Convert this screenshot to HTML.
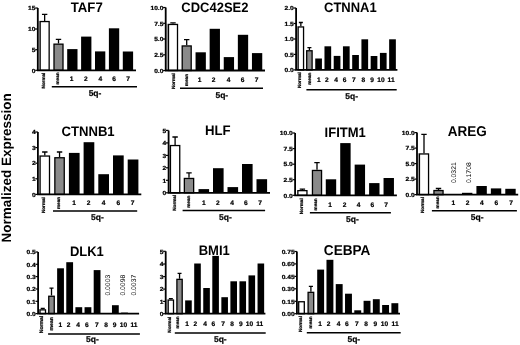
<!DOCTYPE html>
<html><head><meta charset="utf-8"><style>
html,body{margin:0;padding:0;background:#fff;width:520px;height:345px;overflow:hidden}
svg{display:block;will-change:transform}
text{font-family:"Liberation Sans", sans-serif;font-weight:bold;fill:#000;text-rendering:geometricPrecision}
.s{stroke:#000;stroke-width:0.22px}
</style></head><body>
<svg width="520" height="345" viewBox="0 0 520 345">
<rect width="520" height="345" fill="#fff"/>
<text transform="translate(11.3 167.8) rotate(-90)" font-size="13.5" text-anchor="middle">Normalized Expression</text>
<rect x="38.6" y="20.9" width="0.9" height="49.4" fill="#a0a0a0"/>
<rect x="40.15" y="21.55" width="9" height="48.75" fill="#fff" stroke="#000" stroke-width="1.3"/>
<path d="M44.65 20.9V14.3M41.95 14.3H47.35" stroke="#000" stroke-width="1.3" fill="none"/>
<rect x="54" y="44.15" width="9" height="26.15" fill="#8a8a8a" stroke="#000" stroke-width="1.3"/>
<path d="M58.5 43.5V39.4M55.8 39.4H61.2" stroke="#000" stroke-width="1.3" fill="none"/>
<rect x="67.2" y="49.1" width="10.3" height="21.2" fill="#000"/>
<rect x="81.1" y="36.6" width="10.3" height="33.7" fill="#000"/>
<rect x="95" y="51.4" width="10.3" height="18.9" fill="#000"/>
<rect x="108.9" y="28.3" width="10.3" height="42" fill="#000"/>
<rect x="122.8" y="51.5" width="10.3" height="18.8" fill="#000"/>
<path d="M37.8 8V70.3H136" stroke="#000" stroke-width="1.8" fill="none"/>
<path d="M35.2 8H37.8" stroke="#000" stroke-width="1.2"/>
<text transform="translate(35.5 10.2) scale(1.13 1)" font-size="5.9" text-anchor="end" class="s">15</text>
<path d="M35.2 29H37.8" stroke="#000" stroke-width="1.2"/>
<text transform="translate(35.5 31.2) scale(1.13 1)" font-size="5.9" text-anchor="end" class="s">10</text>
<path d="M35.2 49.7H37.8" stroke="#000" stroke-width="1.2"/>
<text transform="translate(35.5 51.9) scale(1.13 1)" font-size="5.9" text-anchor="end" class="s">5</text>
<path d="M35.2 70.3H37.8" stroke="#000" stroke-width="1.2"/>
<text transform="translate(35.5 72.5) scale(1.13 1)" font-size="5.9" text-anchor="end" class="s">0</text>
<text transform="translate(45.4 72.6) rotate(-90)" font-size="4.65" text-anchor="end" class="s">Normal</text>
<text transform="translate(58.6 72.4) rotate(-90)" font-size="4.65" text-anchor="end" class="s">mean</text>
<text x="71.6" y="80.8" font-size="6.6" text-anchor="middle" class="s">1</text>
<text x="85.9" y="80.8" font-size="6.6" text-anchor="middle" class="s">2</text>
<text x="100.4" y="80.8" font-size="6.6" text-anchor="middle" class="s">4</text>
<text x="114.2" y="80.8" font-size="6.6" text-anchor="middle" class="s">6</text>
<text x="128.1" y="80.8" font-size="6.6" text-anchor="middle" class="s">7</text>
<path d="M51.8 86.65H137" stroke="#000" stroke-width="1.5"/>
<text x="95" y="96" font-size="8.5" text-anchor="middle" class="s">5q-</text>
<text transform="translate(86.75 12) scale(1 1.05)" font-size="13.2" text-anchor="middle">TAF7</text>
<rect x="166.5" y="23.8" width="1.35" height="46.7" fill="#a0a0a0"/>
<rect x="168.5" y="24.45" width="9" height="46.05" fill="#fff" stroke="#000" stroke-width="1.3"/>
<path d="M173 23.8V22.8M170.3 22.8H175.7" stroke="#000" stroke-width="1.3" fill="none"/>
<rect x="182.2" y="45.95" width="9" height="24.55" fill="#8a8a8a" stroke="#000" stroke-width="1.3"/>
<path d="M186.7 45.3V39.6M184 39.6H189.4" stroke="#000" stroke-width="1.3" fill="none"/>
<rect x="195.55" y="52.3" width="10.3" height="18.2" fill="#000"/>
<rect x="209.65" y="28.8" width="10.3" height="41.7" fill="#000"/>
<rect x="223.75" y="57.1" width="10.3" height="13.4" fill="#000"/>
<rect x="237.85" y="34.8" width="10.3" height="35.7" fill="#000"/>
<rect x="251.95" y="53.1" width="10.3" height="17.4" fill="#000"/>
<path d="M165.7 7.5V70.5H265" stroke="#000" stroke-width="1.8" fill="none"/>
<path d="M163.1 7.5H165.7" stroke="#000" stroke-width="1.2"/>
<text transform="translate(163.4 9.7) scale(1.13 1)" font-size="5.9" text-anchor="end" class="s">10.0</text>
<path d="M163.1 23.3H165.7" stroke="#000" stroke-width="1.2"/>
<text transform="translate(163.4 25.5) scale(1.13 1)" font-size="5.9" text-anchor="end" class="s">7.5</text>
<path d="M163.1 39H165.7" stroke="#000" stroke-width="1.2"/>
<text transform="translate(163.4 41.2) scale(1.13 1)" font-size="5.9" text-anchor="end" class="s">5.0</text>
<path d="M163.1 54.8H165.7" stroke="#000" stroke-width="1.2"/>
<text transform="translate(163.4 57) scale(1.13 1)" font-size="5.9" text-anchor="end" class="s">2.5</text>
<path d="M163.1 70.5H165.7" stroke="#000" stroke-width="1.2"/>
<text transform="translate(163.4 72.7) scale(1.13 1)" font-size="5.9" text-anchor="end" class="s">0.0</text>
<text transform="translate(174.6 73.1) rotate(-90)" font-size="4.65" text-anchor="end" class="s">Normal</text>
<text transform="translate(187.7 74) rotate(-90)" font-size="4.65" text-anchor="end" class="s">mean</text>
<text x="199.6" y="82.4" font-size="6.6" text-anchor="middle" class="s">1</text>
<text x="213.6" y="82.4" font-size="6.6" text-anchor="middle" class="s">2</text>
<text x="228.5" y="82.4" font-size="6.6" text-anchor="middle" class="s">4</text>
<text x="242.5" y="82.4" font-size="6.6" text-anchor="middle" class="s">6</text>
<text x="256.5" y="82.4" font-size="6.6" text-anchor="middle" class="s">7</text>
<path d="M180 88.3H263" stroke="#000" stroke-width="1.5"/>
<text x="221.8" y="97.5" font-size="8.5" text-anchor="middle" class="s">5q-</text>
<text transform="translate(214.85 12.44) scale(1 1.05)" font-size="13" text-anchor="middle">CDC42SE2</text>
<rect x="296.9" y="26.3" width="0.6" height="43.6" fill="#a0a0a0"/>
<rect x="298.15" y="26.95" width="5.4" height="42.95" fill="#fff" stroke="#000" stroke-width="1.3"/>
<path d="M300.85 26.3V22.5M298.84 22.5H302.86" stroke="#000" stroke-width="1.3" fill="none"/>
<rect x="306.7" y="50.75" width="5.4" height="19.15" fill="#8a8a8a" stroke="#000" stroke-width="1.3"/>
<path d="M309.4 50.1V47.7M307.39 47.7H311.41" stroke="#000" stroke-width="1.3" fill="none"/>
<rect x="315.23" y="58.5" width="6.7" height="11.4" fill="#000"/>
<rect x="324.47" y="46.3" width="6.7" height="23.6" fill="#000"/>
<rect x="333.71" y="55.9" width="6.7" height="14" fill="#000"/>
<rect x="342.95" y="46.3" width="6.7" height="23.6" fill="#000"/>
<rect x="352.19" y="55" width="6.7" height="14.9" fill="#000"/>
<rect x="361.43" y="39.3" width="6.7" height="30.6" fill="#000"/>
<rect x="370.67" y="56" width="6.7" height="13.9" fill="#000"/>
<rect x="379.91" y="52.9" width="6.7" height="17" fill="#000"/>
<rect x="389.15" y="39.3" width="6.7" height="30.6" fill="#000"/>
<path d="M296.1 8V69.9H397.4" stroke="#000" stroke-width="1.8" fill="none"/>
<path d="M293.5 8H296.1" stroke="#000" stroke-width="1.2"/>
<text transform="translate(293.8 10.2) scale(1.13 1)" font-size="5.9" text-anchor="end" class="s">2.0</text>
<path d="M293.5 23.5H296.1" stroke="#000" stroke-width="1.2"/>
<text transform="translate(293.8 25.7) scale(1.13 1)" font-size="5.9" text-anchor="end" class="s">1.5</text>
<path d="M293.5 39H296.1" stroke="#000" stroke-width="1.2"/>
<text transform="translate(293.8 41.2) scale(1.13 1)" font-size="5.9" text-anchor="end" class="s">1.0</text>
<path d="M293.5 54.4H296.1" stroke="#000" stroke-width="1.2"/>
<text transform="translate(293.8 56.6) scale(1.13 1)" font-size="5.9" text-anchor="end" class="s">0.5</text>
<path d="M293.5 69.9H296.1" stroke="#000" stroke-width="1.2"/>
<text transform="translate(293.8 72.1) scale(1.13 1)" font-size="5.9" text-anchor="end" class="s">0.0</text>
<text transform="translate(301.1 72.1) rotate(-90)" font-size="4.65" text-anchor="end" class="s">Normal</text>
<text transform="translate(310.7 72.7) rotate(-90)" font-size="4.65" text-anchor="end" class="s">mean</text>
<text x="318.9" y="82" font-size="6.6" text-anchor="middle" class="s">1</text>
<text x="326.9" y="82" font-size="6.6" text-anchor="middle" class="s">2</text>
<text x="336.1" y="82" font-size="6.6" text-anchor="middle" class="s">4</text>
<text x="344.6" y="82" font-size="6.6" text-anchor="middle" class="s">6</text>
<text x="353.9" y="82" font-size="6.6" text-anchor="middle" class="s">7</text>
<text x="363.3" y="82" font-size="6.6" text-anchor="middle" class="s">8</text>
<text x="372.1" y="82" font-size="6.6" text-anchor="middle" class="s">9</text>
<text x="381" y="82" font-size="6.6" text-anchor="middle" class="s">10</text>
<text x="391.1" y="82" font-size="6.6" text-anchor="middle" class="s">11</text>
<path d="M306.4 89.75H396.7" stroke="#000" stroke-width="1.5"/>
<text x="351.6" y="98.8" font-size="8.5" text-anchor="middle" class="s">5q-</text>
<text transform="translate(350.35 11.59) scale(1 1.05)" font-size="13" text-anchor="middle">CTNNA1</text>
<rect x="38.7" y="155.4" width="0.75" height="39" fill="#a0a0a0"/>
<rect x="40.1" y="156.05" width="9.4" height="38.35" fill="#fff" stroke="#000" stroke-width="1.3"/>
<path d="M44.8 155.4V152M42.1 152H47.5" stroke="#000" stroke-width="1.3" fill="none"/>
<rect x="54.85" y="157.75" width="9.4" height="36.65" fill="#8a8a8a" stroke="#000" stroke-width="1.3"/>
<path d="M59.55 157.1V152M56.85 152H62.25" stroke="#000" stroke-width="1.3" fill="none"/>
<rect x="68.9" y="152.9" width="10.7" height="41.5" fill="#000"/>
<rect x="83.6" y="142.2" width="10.7" height="52.2" fill="#000"/>
<rect x="98.3" y="174.2" width="10.7" height="20.2" fill="#000"/>
<rect x="113" y="155.4" width="10.7" height="39" fill="#000"/>
<rect x="127.7" y="159.5" width="10.7" height="34.9" fill="#000"/>
<path d="M37.9 132V194.4H141.3" stroke="#000" stroke-width="1.8" fill="none"/>
<path d="M35.3 132H37.9" stroke="#000" stroke-width="1.2"/>
<text transform="translate(35.6 134.2) scale(1.13 1)" font-size="5.9" text-anchor="end" class="s">4</text>
<path d="M35.3 147.6H37.9" stroke="#000" stroke-width="1.2"/>
<text transform="translate(35.6 149.8) scale(1.13 1)" font-size="5.9" text-anchor="end" class="s">3</text>
<path d="M35.3 163.2H37.9" stroke="#000" stroke-width="1.2"/>
<text transform="translate(35.6 165.4) scale(1.13 1)" font-size="5.9" text-anchor="end" class="s">2</text>
<path d="M35.3 178.8H37.9" stroke="#000" stroke-width="1.2"/>
<text transform="translate(35.6 181) scale(1.13 1)" font-size="5.9" text-anchor="end" class="s">1</text>
<path d="M35.3 194.4H37.9" stroke="#000" stroke-width="1.2"/>
<text transform="translate(35.6 196.6) scale(1.13 1)" font-size="5.9" text-anchor="end" class="s">0</text>
<text transform="translate(45.4 197.1) rotate(-90)" font-size="4.65" text-anchor="end" class="s">Normal</text>
<text transform="translate(60.4 196.9) rotate(-90)" font-size="4.65" text-anchor="end" class="s">mean</text>
<text x="74.2" y="205.1" font-size="6.6" text-anchor="middle" class="s">1</text>
<text x="88.7" y="205.1" font-size="6.6" text-anchor="middle" class="s">2</text>
<text x="103.6" y="205.1" font-size="6.6" text-anchor="middle" class="s">4</text>
<text x="118.3" y="205.1" font-size="6.6" text-anchor="middle" class="s">6</text>
<text x="132.7" y="205.1" font-size="6.6" text-anchor="middle" class="s">7</text>
<path d="M53 211.05H137.2" stroke="#000" stroke-width="1.5"/>
<text x="97.4" y="220.3" font-size="8.5" text-anchor="middle" class="s">5q-</text>
<text transform="translate(88.1 136.14) scale(1 1.05)" font-size="13.1" text-anchor="middle">CTNNB1</text>
<rect x="169.4" y="144.9" width="0.4" height="47.9" fill="#a0a0a0"/>
<rect x="170.45" y="145.55" width="9.3" height="47.25" fill="#fff" stroke="#000" stroke-width="1.3"/>
<path d="M175.1 144.9V137M172.4 137H177.8" stroke="#000" stroke-width="1.3" fill="none"/>
<rect x="184.35" y="178.45" width="9.3" height="14.35" fill="#8a8a8a" stroke="#000" stroke-width="1.3"/>
<path d="M189 177.8V172.8M186.3 172.8H191.7" stroke="#000" stroke-width="1.3" fill="none"/>
<rect x="198.5" y="189.1" width="10.6" height="3.7" fill="#000"/>
<rect x="213" y="168.2" width="10.6" height="24.6" fill="#000"/>
<rect x="227.5" y="187.1" width="10.6" height="5.7" fill="#000"/>
<rect x="242" y="164" width="10.6" height="28.8" fill="#000"/>
<rect x="256.5" y="179.2" width="10.6" height="13.6" fill="#000"/>
<path d="M168.6 130.4V192.8H270" stroke="#000" stroke-width="1.8" fill="none"/>
<path d="M166 130.4H168.6" stroke="#000" stroke-width="1.2"/>
<text transform="translate(166.3 132.6) scale(1.13 1)" font-size="5.9" text-anchor="end" class="s">5</text>
<path d="M166 142.9H168.6" stroke="#000" stroke-width="1.2"/>
<text transform="translate(166.3 145.1) scale(1.13 1)" font-size="5.9" text-anchor="end" class="s">4</text>
<path d="M166 155.4H168.6" stroke="#000" stroke-width="1.2"/>
<text transform="translate(166.3 157.6) scale(1.13 1)" font-size="5.9" text-anchor="end" class="s">3</text>
<path d="M166 167.8H168.6" stroke="#000" stroke-width="1.2"/>
<text transform="translate(166.3 170) scale(1.13 1)" font-size="5.9" text-anchor="end" class="s">2</text>
<path d="M166 180.3H168.6" stroke="#000" stroke-width="1.2"/>
<text transform="translate(166.3 182.5) scale(1.13 1)" font-size="5.9" text-anchor="end" class="s">1</text>
<path d="M166 192.8H168.6" stroke="#000" stroke-width="1.2"/>
<text transform="translate(166.3 195) scale(1.13 1)" font-size="5.9" text-anchor="end" class="s">0</text>
<text transform="translate(175.6 194.8) rotate(-90)" font-size="4.65" text-anchor="end" class="s">Normal</text>
<text transform="translate(189.5 195.7) rotate(-90)" font-size="4.65" text-anchor="end" class="s">mean</text>
<text x="203.8" y="204.6" font-size="6.6" text-anchor="middle" class="s">1</text>
<text x="217.8" y="204.6" font-size="6.6" text-anchor="middle" class="s">2</text>
<text x="232" y="204.6" font-size="6.6" text-anchor="middle" class="s">4</text>
<text x="245.9" y="204.6" font-size="6.6" text-anchor="middle" class="s">6</text>
<text x="260.2" y="204.6" font-size="6.6" text-anchor="middle" class="s">7</text>
<path d="M182.6 210.5H265.1" stroke="#000" stroke-width="1.5"/>
<text x="225.4" y="219.5" font-size="8.5" text-anchor="middle" class="s">5q-</text>
<text transform="translate(217.8 134.54) scale(1 1.05)" font-size="13.2" text-anchor="middle">HLF</text>
<rect x="297.85" y="190.65" width="9.1" height="4.65" fill="#fff" stroke="#000" stroke-width="1.3"/>
<path d="M302.4 190V189.2M299.7 189.2H305.1" stroke="#000" stroke-width="1.3" fill="none"/>
<rect x="312.45" y="170.45" width="9.1" height="24.85" fill="#8a8a8a" stroke="#000" stroke-width="1.3"/>
<path d="M317 169.8V162.6M314.3 162.6H319.7" stroke="#000" stroke-width="1.3" fill="none"/>
<rect x="325.78" y="179.3" width="10.4" height="16" fill="#000"/>
<rect x="340.22" y="143.1" width="10.4" height="52.2" fill="#000"/>
<rect x="354.66" y="164.6" width="10.4" height="30.7" fill="#000"/>
<rect x="369.1" y="183.1" width="10.4" height="12.2" fill="#000"/>
<rect x="383.54" y="178" width="10.4" height="17.3" fill="#000"/>
<path d="M295.1 133V195.3H396.9" stroke="#000" stroke-width="1.8" fill="none"/>
<path d="M292.5 133H295.1" stroke="#000" stroke-width="1.2"/>
<text transform="translate(292.8 135.2) scale(1.13 1)" font-size="5.9" text-anchor="end" class="s">10.0</text>
<path d="M292.5 148.6H295.1" stroke="#000" stroke-width="1.2"/>
<text transform="translate(292.8 150.8) scale(1.13 1)" font-size="5.9" text-anchor="end" class="s">7.5</text>
<path d="M292.5 164.2H295.1" stroke="#000" stroke-width="1.2"/>
<text transform="translate(292.8 166.4) scale(1.13 1)" font-size="5.9" text-anchor="end" class="s">5.0</text>
<path d="M292.5 179.7H295.1" stroke="#000" stroke-width="1.2"/>
<text transform="translate(292.8 181.9) scale(1.13 1)" font-size="5.9" text-anchor="end" class="s">2.5</text>
<path d="M292.5 195.3H295.1" stroke="#000" stroke-width="1.2"/>
<text transform="translate(292.8 197.5) scale(1.13 1)" font-size="5.9" text-anchor="end" class="s">0.0</text>
<text transform="translate(302.9 198.3) rotate(-90)" font-size="4.65" text-anchor="end" class="s">Normal</text>
<text transform="translate(317 198.3) rotate(-90)" font-size="4.65" text-anchor="end" class="s">mean</text>
<text x="330" y="206.9" font-size="6.6" text-anchor="middle" class="s">1</text>
<text x="344.6" y="206.9" font-size="6.6" text-anchor="middle" class="s">2</text>
<text x="358.5" y="206.9" font-size="6.6" text-anchor="middle" class="s">4</text>
<text x="372.3" y="206.9" font-size="6.6" text-anchor="middle" class="s">6</text>
<text x="386.2" y="206.9" font-size="6.6" text-anchor="middle" class="s">7</text>
<path d="M309.9 212.8H390.9" stroke="#000" stroke-width="1.5"/>
<text x="352.4" y="221.5" font-size="8.5" text-anchor="middle" class="s">5q-</text>
<text transform="translate(345.2 137.14) scale(1 1.05)" font-size="13" text-anchor="middle">IFITM1</text>
<rect x="417.8" y="153.3" width="1" height="41.3" fill="#a0a0a0"/>
<rect x="419.45" y="153.95" width="9.1" height="40.65" fill="#fff" stroke="#000" stroke-width="1.3"/>
<path d="M424 153.3V134.3M421.3 134.3H426.7" stroke="#000" stroke-width="1.3" fill="none"/>
<rect x="433.95" y="190.55" width="9.1" height="4.05" fill="#8a8a8a" stroke="#000" stroke-width="1.3"/>
<path d="M438.5 189.9V188.5M435.8 188.5H441.2" stroke="#000" stroke-width="1.3" fill="none"/>
<rect x="461.99" y="192.8" width="10.4" height="1.8" fill="#000"/>
<rect x="476.42" y="186" width="10.4" height="8.6" fill="#000"/>
<rect x="490.85" y="188.4" width="10.4" height="6.2" fill="#000"/>
<rect x="505.28" y="188.8" width="10.4" height="5.8" fill="#000"/>
<path d="M417 132.6V194.6H518.2" stroke="#000" stroke-width="1.8" fill="none"/>
<path d="M414.4 132.6H417" stroke="#000" stroke-width="1.2"/>
<text transform="translate(414.7 134.8) scale(1.13 1)" font-size="5.9" text-anchor="end" class="s">10.0</text>
<path d="M414.4 148.1H417" stroke="#000" stroke-width="1.2"/>
<text transform="translate(414.7 150.3) scale(1.13 1)" font-size="5.9" text-anchor="end" class="s">7.5</text>
<path d="M414.4 163.6H417" stroke="#000" stroke-width="1.2"/>
<text transform="translate(414.7 165.8) scale(1.13 1)" font-size="5.9" text-anchor="end" class="s">5.0</text>
<path d="M414.4 179.1H417" stroke="#000" stroke-width="1.2"/>
<text transform="translate(414.7 181.3) scale(1.13 1)" font-size="5.9" text-anchor="end" class="s">2.5</text>
<path d="M414.4 194.6H417" stroke="#000" stroke-width="1.2"/>
<text transform="translate(414.7 196.8) scale(1.13 1)" font-size="5.9" text-anchor="end" class="s">0.0</text>
<text transform="translate(424.3 197) rotate(-90)" font-size="4.65" text-anchor="end" class="s">Normal</text>
<text transform="translate(439.3 196.3) rotate(-90)" font-size="4.65" text-anchor="end" class="s">mean</text>
<text x="453.3" y="205.1" font-size="6.6" text-anchor="middle" class="s">1</text>
<text x="467.5" y="205.1" font-size="6.6" text-anchor="middle" class="s">2</text>
<text x="481.9" y="205.1" font-size="6.6" text-anchor="middle" class="s">4</text>
<text x="496.4" y="205.1" font-size="6.6" text-anchor="middle" class="s">6</text>
<text x="511.1" y="205.1" font-size="6.6" text-anchor="middle" class="s">7</text>
<text transform="translate(456 162.3) rotate(-90)" font-size="6.8" style="font-weight:normal" text-anchor="end">0.0321</text>
<text transform="translate(470.8 162.3) rotate(-90)" font-size="6.8" style="font-weight:normal" text-anchor="end">0.1708</text>
<path d="M431.9 210.7H516.9" stroke="#000" stroke-width="1.5"/>
<text x="477.1" y="220" font-size="8.5" text-anchor="middle" class="s">5q-</text>
<text transform="translate(467.2 136.14) scale(1 1.05)" font-size="13.5" text-anchor="middle">AREG</text>
<rect x="38.9" y="309.2" width="0.45" height="4.4" fill="#a0a0a0"/>
<rect x="40" y="309.85" width="5.5" height="3.75" fill="#fff" stroke="#000" stroke-width="1.3"/>
<path d="M42.75 309.2V308.4M40.71 308.4H44.79" stroke="#000" stroke-width="1.3" fill="none"/>
<rect x="48.75" y="296.25" width="5.5" height="17.35" fill="#8a8a8a" stroke="#000" stroke-width="1.3"/>
<path d="M51.5 295.6V288.1M49.46 288.1H53.54" stroke="#000" stroke-width="1.3" fill="none"/>
<rect x="57.13" y="268.3" width="6.8" height="45.3" fill="#000"/>
<rect x="66.27" y="262.2" width="6.8" height="51.4" fill="#000"/>
<rect x="75.41" y="307.2" width="6.8" height="6.4" fill="#000"/>
<rect x="84.55" y="307.2" width="6.8" height="6.4" fill="#000"/>
<rect x="93.69" y="270.1" width="6.8" height="43.5" fill="#000"/>
<rect x="111.97" y="305.2" width="6.8" height="8.4" fill="#000"/>
<rect x="121.11" y="312.6" width="6.8" height="1" fill="#000"/>
<path d="M38.1 252V313.6H139.1" stroke="#000" stroke-width="1.8" fill="none"/>
<path d="M35.5 252H38.1" stroke="#000" stroke-width="1.2"/>
<text transform="translate(35.8 254.2) scale(1.13 1)" font-size="5.9" text-anchor="end" class="s">0.5</text>
<path d="M35.5 264.3H38.1" stroke="#000" stroke-width="1.2"/>
<text transform="translate(35.8 266.5) scale(1.13 1)" font-size="5.9" text-anchor="end" class="s">0.4</text>
<path d="M35.5 276.6H38.1" stroke="#000" stroke-width="1.2"/>
<text transform="translate(35.8 278.8) scale(1.13 1)" font-size="5.9" text-anchor="end" class="s">0.3</text>
<path d="M35.5 289H38.1" stroke="#000" stroke-width="1.2"/>
<text transform="translate(35.8 291.2) scale(1.13 1)" font-size="5.9" text-anchor="end" class="s">0.2</text>
<path d="M35.5 301.3H38.1" stroke="#000" stroke-width="1.2"/>
<text transform="translate(35.8 303.5) scale(1.13 1)" font-size="5.9" text-anchor="end" class="s">0.1</text>
<path d="M35.5 313.6H38.1" stroke="#000" stroke-width="1.2"/>
<text transform="translate(35.8 315.8) scale(1.13 1)" font-size="5.9" text-anchor="end" class="s">0.0</text>
<text transform="translate(42.6 315.7) rotate(-90)" font-size="5.1" text-anchor="end" class="s">Normal</text>
<text transform="translate(52.7 317.1) rotate(-90)" font-size="5.1" text-anchor="end" class="s">mean</text>
<text x="60.4" y="326.9" font-size="6.6" text-anchor="middle" class="s">1</text>
<text x="68.7" y="326.9" font-size="6.6" text-anchor="middle" class="s">2</text>
<text x="78.2" y="326.9" font-size="6.6" text-anchor="middle" class="s">4</text>
<text x="86.8" y="326.9" font-size="6.6" text-anchor="middle" class="s">6</text>
<text x="96.9" y="326.9" font-size="6.6" text-anchor="middle" class="s">7</text>
<text x="106.2" y="326.9" font-size="6.6" text-anchor="middle" class="s">8</text>
<text x="114.6" y="326.9" font-size="6.6" text-anchor="middle" class="s">9</text>
<text x="123.5" y="326.9" font-size="6.6" text-anchor="middle" class="s">10</text>
<text x="133.9" y="326.9" font-size="6.6" text-anchor="middle" class="s">11</text>
<text transform="translate(109.6 274.8) rotate(-90)" font-size="6.8" style="font-weight:normal" text-anchor="end">0.0003</text>
<text transform="translate(125.2 274.8) rotate(-90)" font-size="6.8" style="font-weight:normal" text-anchor="end">0.0098</text>
<text transform="translate(135.9 274.8) rotate(-90)" font-size="6.8" style="font-weight:normal" text-anchor="end">0.0037</text>
<path d="M48.1 333.9H139.9" stroke="#000" stroke-width="1.5"/>
<text x="92.4" y="342.1" font-size="8.5" text-anchor="middle" class="s">5q-</text>
<text transform="translate(86.85 256.09) scale(1 1.05)" font-size="13" text-anchor="middle">DLK1</text>
<rect x="166.5" y="299.4" width="1.05" height="14.3" fill="#a0a0a0"/>
<rect x="168.2" y="300.05" width="5.3" height="13.65" fill="#fff" stroke="#000" stroke-width="1.3"/>
<path d="M170.85 299.4V298.7M168.87 298.7H172.83" stroke="#000" stroke-width="1.3" fill="none"/>
<rect x="176.9" y="279.35" width="5.3" height="34.35" fill="#8a8a8a" stroke="#000" stroke-width="1.3"/>
<path d="M179.55 278.7V273.3M177.57 273.3H181.53" stroke="#000" stroke-width="1.3" fill="none"/>
<rect x="185.15" y="300.4" width="6.6" height="13.3" fill="#000"/>
<rect x="194.2" y="263.5" width="6.6" height="50.2" fill="#000"/>
<rect x="203.25" y="288" width="6.6" height="25.7" fill="#000"/>
<rect x="212.3" y="255.9" width="6.6" height="57.8" fill="#000"/>
<rect x="221.35" y="297.2" width="6.6" height="16.5" fill="#000"/>
<rect x="230.4" y="281.3" width="6.6" height="32.4" fill="#000"/>
<rect x="239.45" y="281.3" width="6.6" height="32.4" fill="#000"/>
<rect x="248.5" y="275.4" width="6.6" height="38.3" fill="#000"/>
<rect x="257.55" y="263.5" width="6.6" height="50.2" fill="#000"/>
<path d="M165.7 251.3V313.7H265.4" stroke="#000" stroke-width="1.8" fill="none"/>
<path d="M163.1 251.3H165.7" stroke="#000" stroke-width="1.2"/>
<text transform="translate(163.4 253.5) scale(1.13 1)" font-size="5.9" text-anchor="end" class="s">5</text>
<path d="M163.1 264H165.7" stroke="#000" stroke-width="1.2"/>
<text transform="translate(163.4 266.2) scale(1.13 1)" font-size="5.9" text-anchor="end" class="s">4</text>
<path d="M163.1 276.6H165.7" stroke="#000" stroke-width="1.2"/>
<text transform="translate(163.4 278.8) scale(1.13 1)" font-size="5.9" text-anchor="end" class="s">3</text>
<path d="M163.1 289.1H165.7" stroke="#000" stroke-width="1.2"/>
<text transform="translate(163.4 291.3) scale(1.13 1)" font-size="5.9" text-anchor="end" class="s">2</text>
<path d="M163.1 301.4H165.7" stroke="#000" stroke-width="1.2"/>
<text transform="translate(163.4 303.6) scale(1.13 1)" font-size="5.9" text-anchor="end" class="s">1</text>
<path d="M163.1 313.7H165.7" stroke="#000" stroke-width="1.2"/>
<text transform="translate(163.4 315.9) scale(1.13 1)" font-size="5.9" text-anchor="end" class="s">0</text>
<text transform="translate(170.7 316.7) rotate(-90)" font-size="4.65" text-anchor="end" class="s">Normal</text>
<text transform="translate(179.4 316.3) rotate(-90)" font-size="4.65" text-anchor="end" class="s">mean</text>
<text x="187.2" y="325.8" font-size="6.6" text-anchor="middle" class="s">1</text>
<text x="195.4" y="325.8" font-size="6.6" text-anchor="middle" class="s">2</text>
<text x="205.1" y="325.8" font-size="6.6" text-anchor="middle" class="s">4</text>
<text x="213.4" y="325.8" font-size="6.6" text-anchor="middle" class="s">6</text>
<text x="223.2" y="325.8" font-size="6.6" text-anchor="middle" class="s">7</text>
<text x="232.2" y="325.8" font-size="6.6" text-anchor="middle" class="s">8</text>
<text x="240.9" y="325.8" font-size="6.6" text-anchor="middle" class="s">9</text>
<text x="249.4" y="325.8" font-size="6.6" text-anchor="middle" class="s">10</text>
<text x="259.7" y="325.8" font-size="6.6" text-anchor="middle" class="s">11</text>
<path d="M174.8 332.9H265.7" stroke="#000" stroke-width="1.5"/>
<text x="220.3" y="342.1" font-size="8.5" text-anchor="middle" class="s">5q-</text>
<text transform="translate(214.2 254.79) scale(1 1.05)" font-size="13" text-anchor="middle">BMI1</text>
<rect x="297.7" y="301.1" width="0.35" height="12.6" fill="#a0a0a0"/>
<rect x="298.7" y="301.75" width="5.6" height="11.95" fill="#fff" stroke="#000" stroke-width="1.3"/>
<rect x="308.1" y="292.35" width="5.6" height="21.35" fill="#8a8a8a" stroke="#000" stroke-width="1.3"/>
<path d="M310.9 291.7V286.3M308.83 286.3H312.97" stroke="#000" stroke-width="1.3" fill="none"/>
<rect x="317.2" y="269.6" width="6.9" height="44.1" fill="#000"/>
<rect x="326.48" y="259.8" width="6.9" height="53.9" fill="#000"/>
<rect x="335.75" y="284.1" width="6.9" height="29.6" fill="#000"/>
<rect x="345.03" y="293.7" width="6.9" height="20" fill="#000"/>
<rect x="354.3" y="310.3" width="6.9" height="3.4" fill="#000"/>
<rect x="363.58" y="300.8" width="6.9" height="12.9" fill="#000"/>
<rect x="372.85" y="299.2" width="6.9" height="14.5" fill="#000"/>
<rect x="382.13" y="305" width="6.9" height="8.7" fill="#000"/>
<rect x="391.4" y="303.2" width="6.9" height="10.5" fill="#000"/>
<path d="M296.9 251.5V313.7H400" stroke="#000" stroke-width="1.8" fill="none"/>
<path d="M294.3 251.5H296.9" stroke="#000" stroke-width="1.2"/>
<text transform="translate(294.6 253.7) scale(1.13 1)" font-size="5.9" text-anchor="end" class="s">0.75</text>
<path d="M294.3 263.9H296.9" stroke="#000" stroke-width="1.2"/>
<text transform="translate(294.6 266.1) scale(1.13 1)" font-size="5.9" text-anchor="end" class="s">0.60</text>
<path d="M294.3 276.4H296.9" stroke="#000" stroke-width="1.2"/>
<text transform="translate(294.6 278.6) scale(1.13 1)" font-size="5.9" text-anchor="end" class="s">0.45</text>
<path d="M294.3 288.8H296.9" stroke="#000" stroke-width="1.2"/>
<text transform="translate(294.6 291) scale(1.13 1)" font-size="5.9" text-anchor="end" class="s">0.30</text>
<path d="M294.3 301.3H296.9" stroke="#000" stroke-width="1.2"/>
<text transform="translate(294.6 303.5) scale(1.13 1)" font-size="5.9" text-anchor="end" class="s">0.15</text>
<path d="M294.3 313.7H296.9" stroke="#000" stroke-width="1.2"/>
<text transform="translate(294.6 315.9) scale(1.13 1)" font-size="5.9" text-anchor="end" class="s">0.00</text>
<text transform="translate(301.6 316) rotate(-90)" font-size="4.65" text-anchor="end" class="s">Normal</text>
<text transform="translate(311.8 316.3) rotate(-90)" font-size="4.65" text-anchor="end" class="s">mean</text>
<text x="320" y="325.8" font-size="6.6" text-anchor="middle" class="s">1</text>
<text x="328.5" y="325.8" font-size="6.6" text-anchor="middle" class="s">2</text>
<text x="338.5" y="325.8" font-size="6.6" text-anchor="middle" class="s">4</text>
<text x="346.8" y="325.8" font-size="6.6" text-anchor="middle" class="s">6</text>
<text x="356.9" y="325.8" font-size="6.6" text-anchor="middle" class="s">7</text>
<text x="366.2" y="325.8" font-size="6.6" text-anchor="middle" class="s">8</text>
<text x="375.4" y="325.8" font-size="6.6" text-anchor="middle" class="s">9</text>
<text x="384.5" y="325.8" font-size="6.6" text-anchor="middle" class="s">10</text>
<text x="395.1" y="325.8" font-size="6.6" text-anchor="middle" class="s">11</text>
<path d="M306.8 332.85H400.7" stroke="#000" stroke-width="1.5"/>
<text x="353.8" y="341.9" font-size="8.5" text-anchor="middle" class="s">5q-</text>
<text transform="translate(347.1 255.39) scale(1 1.05)" font-size="13.6" text-anchor="middle">CEBPA</text>
</svg>
</body></html>
